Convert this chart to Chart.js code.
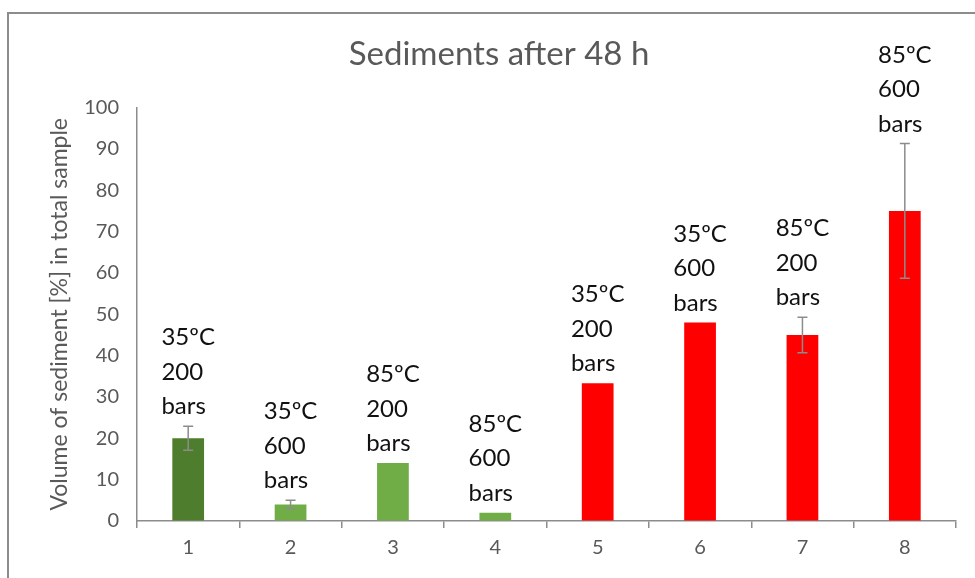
<!DOCTYPE html>
<html>
<head>
<meta charset="utf-8">
<script src="https://cdn.jsdelivr.net/npm/chart.js@4.4.1/dist/chart.umd.min.js"></script>
<style>
  html, body { margin: 0; padding: 0; background: #fff; }
  #wrap { position: relative; width: 975px; height: 578px; overflow: hidden; }
  #frame { position: absolute; left: 7px; top: 12px; width: 1000px; height: 600px;
           border-left: 2px solid #8c8c8c; border-top: 2px solid #8c8c8c; }
  canvas { position: absolute; left: 0; top: 0; }
</style>
</head>
<body>
<div id="wrap">
  <div id="frame"></div>
  <canvas id="chart" width="975" height="578"></canvas>
</div>
<script>
// values
var categories = ['1', '2', '3', '4', '5', '6', '7', '8'];
var sediment = [20, 4, 14, 2, 33.3, 48, 45, 75];
var errors = [2.9, 1, 0, 0, 0, 0, 4.3, 16.3];
var temps = ['35ºC', '35ºC', '85ºC', '85ºC', '35ºC', '35ºC', '85ºC', '85ºC'];
var pressures = ['200', '600', '200', '600', '200', '600', '200', '600'];
var barColors = ['#4f7d2e', '#70ad47', '#70ad47', '#70ad47', '#ff0000', '#ff0000', '#ff0000', '#ff0000'];

var FONT = 'Lato, "Open Sans", sans-serif';

// error bars + the three-line labels
var extras = {
  id: 'extras',
  afterDatasetsDraw: function (chart) {
    var ctx = chart.ctx;
    var y = chart.scales.y;
    var meta = chart.getDatasetMeta(0);
    ctx.save();
    meta.data.forEach(function (bar, i) {
      var top = bar.y;
      if (errors[i] > 0) {
        var hi = y.getPixelForValue(sediment[i] + errors[i]);
        var lo = y.getPixelForValue(sediment[i] - errors[i]);
        ctx.strokeStyle = '#8c8c8c';
        ctx.lineWidth = 1.5;
        ctx.beginPath();
        ctx.moveTo(bar.x, hi); ctx.lineTo(bar.x, lo);
        ctx.moveTo(bar.x - 5, hi); ctx.lineTo(bar.x + 5, hi);
        ctx.moveTo(bar.x - 5, lo); ctx.lineTo(bar.x + 5, lo);
        ctx.stroke();
        top = Math.min(top, hi);
      }
      ctx.font = '24px ' + FONT;
      ctx.fillStyle = '#111';
      ctx.textBaseline = 'alphabetic';
      ctx.textAlign = 'left';
      var left = bar.x - ctx.measureText(temps[i]).width / 2;
      var base = top - 12;
      var lh = 34.5;
      ctx.fillText('bars', left, base);
      ctx.fillText(pressures[i], left, base - lh);
      ctx.fillText(temps[i], left, base - 2 * lh);
    });
    ctx.restore();
  }
};

new Chart('chart', {
  type: 'bar',
  data: {
    labels: categories,
    datasets: [{
      data: sediment,
      backgroundColor: barColors,
      barPercentage: 0.31,
      categoryPercentage: 1
    }]
  },
  options: {
    responsive: false,
    animation: false,
    layout: { padding: { left: 42, right: 19, top: 0, bottom: 0 } },
    plugins: {
      legend: { display: false },
      tooltip: { enabled: false },
      title: {
        display: true,
        text: 'Sediments after 48 h',
        color: '#595959',
        font: { family: FONT, size: 33, weight: 'normal' },
        padding: { top: 35, bottom: 33 }
      }
    },
    scales: {
      x: {
        grid: { offset: true, drawOnChartArea: false, tickLength: 7, color: '#8c8c8c', lineWidth: 1.5 },
        border: { color: '#8c8c8c', width: 1.5 },
        ticks: { color: '#595959', font: { family: FONT, size: 20 }, padding: 8 },
        afterFit: function (s) { s.height = 57; }
      },
      y: {
        min: 0,
        max: 100,
        ticks: { stepSize: 10, color: '#595959', font: { family: FONT, size: 20 }, padding: 18 },
        grid: { drawOnChartArea: false, drawTicks: false, color: '#8c8c8c' },
        border: { color: '#8c8c8c', width: 1.5 },
        title: {
          display: true,
          text: 'Volume of sediment [%] in total sample',
          color: '#595959',
          font: { family: FONT, size: 23 },
          padding: { top: 4, bottom: 0 }
        },
        afterFit: function (s) { s.width = 95; }
      }
    }
  },
  plugins: [extras]
});
</script>
</body>
</html>
